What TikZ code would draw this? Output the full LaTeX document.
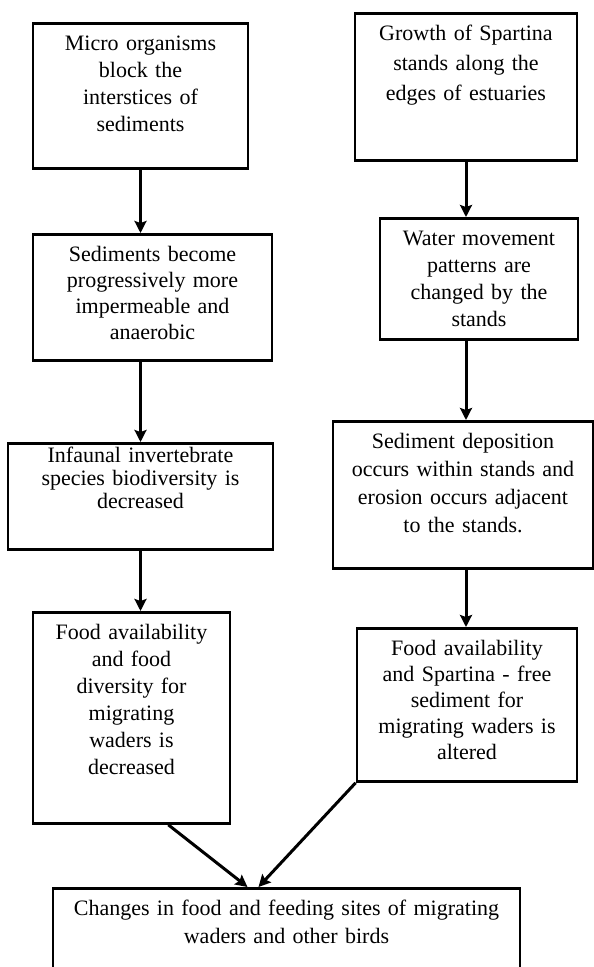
\documentclass[tikz,border=0pt]{standalone}
\usepackage{fontspec}
\setmainfont{Liberation Serif}
\usepackage{tikz}
\usetikzlibrary{arrows.meta, positioning}
\tikzstyle{stagebox} = [rectangle, draw=black, line width=2.8pt, align=center, anchor=north, inner xsep=4pt, inner ysep=12pt, text height=15pt, font=\fontsize{22}{27}\selectfont]
\tikzstyle{arrow}    = [line width=3pt,->,>={Stealth[length=12pt, width=12pt, inset=2pt]}]

\begin{document}
\begin{tikzpicture}[x=1pt, y=-1pt]
    \useasboundingbox (0,0) rectangle (594,967);

    % left chain
    \node (micro) [stagebox, text width=207pt, text depth=106pt] at (140.5,22)
        {Micro organisms\\block the\\interstices of\\sediments};
    \node (imperm) [stagebox, text width=231pt, text depth=87pt, font=\fontsize{22}{26}\selectfont] at (152.5,233)
        {Sediments become\\progressively more\\impermeable and\\anaerobic};
    \node (infauna) [stagebox, text width=257pt, text height=7pt, text depth=75pt, font=\fontsize{22}{23}\selectfont] at (140.5,442)
        {Infaunal invertebrate\\species biodiversity is\\decreased};
    \node (fooddiv) [stagebox, text width=189pt, text depth=172pt] at (131.5,611)
        {Food availability\\and food\\diversity for\\migrating\\waders is\\decreased};

    % right chain
    \node (growth) [stagebox, text width=214pt, text depth=108pt, font=\fontsize{22}{30}\selectfont] at (466,12)
        {Growth of Spartina\\stands along the\\edges of estuaries};
    \node (water) [stagebox, text width=190pt, text depth=82pt] at (479,217)
        {Water movement\\patterns are\\changed by the\\stands};
    \node (deposit) [stagebox, text width=252pt, text depth=108pt, font=\fontsize{22}{28}\selectfont] at (463,420)
        {Sediment deposition\\occurs within stands and\\erosion occurs adjacent\\to the stands.};
    \node (foodalt) [stagebox, text width=212pt, text depth=114pt, font=\fontsize{22}{26}\selectfont] at (467,627)
        {Food availability\\and Spartina - free\\sediment for\\migrating waders is\\altered};

    % common result, runs off the bottom edge
    \node (change) [stagebox, text width=459pt, text depth=74pt, font=\fontsize{22}{28}\selectfont] at (286.5,887)
        {Changes in food and feeding sites of migrating\\waders and other birds};

    \draw [arrow] (micro.south)          -- (micro.south |- imperm.north);
    \draw [arrow] (micro.south |- imperm.south)  -- (micro.south |- infauna.north);
    \draw [arrow] (micro.south |- infauna.south) -- (micro.south |- fooddiv.north);
    \draw [arrow] (growth.south)         -- (growth.south |- water.north);
    \draw [arrow] (growth.south |- water.south)   -- (growth.south |- deposit.north);
    \draw [arrow] (growth.south |- deposit.south) -- (growth.south |- foodalt.north);
    \draw [arrow] (fooddiv.289)          -- ([xshift=-39pt]change.north);
    \draw [arrow] (foodalt.south west)   -- ([xshift=-28pt]change.north);
\end{tikzpicture}
\end{document}
